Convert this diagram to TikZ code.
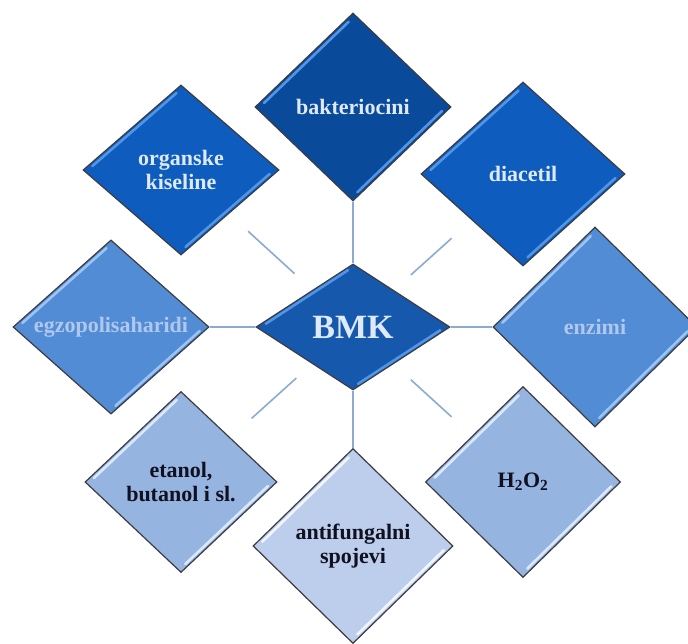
\documentclass[tikz,border=0pt]{standalone}
\usepackage{fontspec}
\setmainfont{Liberation Serif}
\usetikzlibrary{shapes.geometric,calc}
\definecolor{cDark}{RGB}{10,74,155}
\definecolor{cMid}{RGB}{14,92,190}
\definecolor{cBMK}{RGB}{22,88,172}
\definecolor{cMed}{RGB}{82,140,212}
\definecolor{cLight}{RGB}{150,180,224}
\definecolor{cPale}{RGB}{188,206,235}
\definecolor{cLine}{RGB}{140,170,210}
\definecolor{cEdge}{RGB}{60,60,66}
\definecolor{tLight}{RGB}{222,234,250}
\definecolor{tMed}{RGB}{176,200,238}
\definecolor{tDark}{RGB}{16,16,32}
\definecolor{hDark}{RGB}{80,150,232}
\definecolor{hMed}{RGB}{155,196,244}
\definecolor{hLight}{RGB}{218,232,252}
\definecolor{hPale}{RGB}{240,246,253}
\tikzset{
  dia/.style={diamond, draw=cEdge, line width=1.2pt, inner sep=0pt, align=center,
    font=\fontsize{22}{24}\selectfont\bfseries},
  link/.style={draw=cLine, line width=1.6pt},
  bev/.style={line width=2.6pt, line cap=round, shorten <=6pt, shorten >=6pt}
}
\newcommand\bevelit[2]{%
  \draw[bev,#2] ($(#1.center)!0.945!(#1.west)$) -- ($(#1.center)!0.945!(#1.north)$);
  \draw[bev,#2] ($(#1.center)!0.945!(#1.east)$) -- ($(#1.center)!0.945!(#1.south)$);
}
\begin{document}
\begin{tikzpicture}[x=1pt,y=-1pt]
\useasboundingbox[fill=white] (0,0) rectangle (688,644);
% nodes
\node[dia, fill=cDark, text=tLight, minimum width=196pt, minimum height=188pt] (bak) at (353,107) {bakteriocini};
\node[dia, fill=cMid, text=tLight, minimum width=196pt, minimum height=170pt] (org) at (181,170) {organske\\kiseline};
\node[dia, fill=cMid, text=tLight, minimum width=204pt, minimum height=184pt] (dia) at (523,174) {diacetil};
\node[dia, fill=cMed, text=tMed, minimum width=196pt, minimum height=172pt] (egz) at (111,327) {egzopolisaharidi};
\node[dia, fill=cMed, text=tMed, minimum width=204pt, minimum height=200pt] (enz) at (595,327) {enzimi};
\node[dia, fill=cLight, text=tDark, minimum width=192pt, minimum height=181pt] (eta) at (181,482) {etanol,\\butanol i sl.};
\node[dia, fill=cLight, text=tDark, minimum width=195pt, minimum height=191pt] (h2o) at (523,482) {H\textsubscript{2}O\textsubscript{2}};
\node[dia, fill=cPale, text=tDark, minimum width=200pt, minimum height=195pt] (ant) at (353,546) {antifungalni\\spojevi};
\node[dia, fill=cBMK, text=tLight, minimum width=194pt, minimum height=126pt,
  font=\fontsize{34}{36}\selectfont\bfseries] (bmk) at (353,327) {BMK};
% bevel highlights
\bevelit{bak}{hDark}
\bevelit{org}{hDark}
\bevelit{dia}{hDark}
\bevelit{bmk}{hDark}
\bevelit{egz}{hMed}
\bevelit{enz}{hMed}
\bevelit{eta}{hLight}
\bevelit{h2o}{hLight}
\bevelit{ant}{hPale}
% connectors
\draw[link] (bak.south) -- (bmk.north);
\draw[link] (bmk.south) -- (ant.north);
\draw[link] (egz.east) -- (bmk.west);
\draw[link] (bmk.east) -- (enz.west);
\draw[link] ($(bmk.center)!0.34!(org.center)$) -- ($(bmk.center)!0.61!(org.center)$);
\draw[link] ($(bmk.center)!0.34!(dia.center)$) -- ($(bmk.center)!0.58!(dia.center)$);
\draw[link] ($(bmk.center)!0.33!(eta.center)$) -- ($(bmk.center)!0.59!(eta.center)$);
\draw[link] ($(bmk.center)!0.34!(h2o.center)$) -- ($(bmk.center)!0.58!(h2o.center)$);
\end{tikzpicture}
\end{document}
